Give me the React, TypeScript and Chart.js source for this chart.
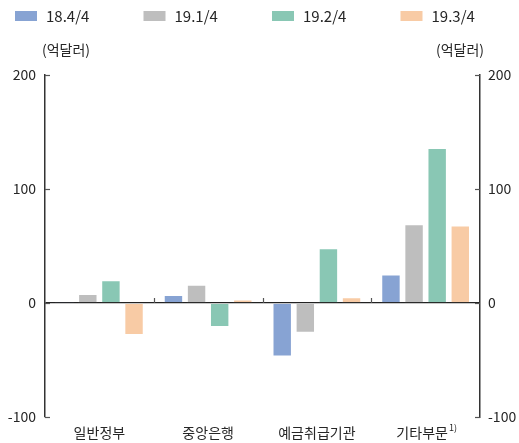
import React, { useEffect, useRef } from "react";
import { Chart, registerables } from "chart.js";

Chart.register(...registerables);

const categories = ["일반정부", "중앙은행", "예금취급기관", "기타부문\u2002"];
const seriesLabels = ["18.4/4", "19.1/4", "19.2/4", "19.3/4"];
const q2018_4 = [1, 7, -47, 25];
const q2019_1 = [8, 16, -26, 69];
const q2019_2 = [20, -21, 48, 136];
const q2019_3 = [-28, 3, 5, 68];
const seriesColors = ["#87A3D3", "#BEBEBE", "#89C7B4", "#F8CBA5"];
const yTicks = [-100, 0, 100, 200];
const unitLabel = "(억달러)";
const footnoteMark = "1)";

const FONT = "'Noto Sans CJK KR', 'Noto Sans', sans-serif";
const TEXT = "#262626";

// Legend row, unit labels, inward ticks and the footnote mark
const decorations = {
  id: "decorations",
  afterDraw(chart: any) {
    const { ctx, chartArea, scales } = chart;
    const yL = scales.y;
    const yR = scales.y2;
    const x = scales.x;
    ctx.save();

    // legend
    ctx.font = `15px ${FONT}`;
    ctx.textBaseline = "middle";
    ctx.textAlign = "left";
    chart.data.datasets.forEach((ds: any, i: number) => {
      const lx = 15 + i * 128.5;
      ctx.fillStyle = ds.backgroundColor;
      ctx.fillRect(lx, 11, 22, 10);
      ctx.fillStyle = TEXT;
      ctx.fillText(ds.label, lx + 31, 16.5);
    });

    // unit labels
    ctx.font = `14px ${FONT}`;
    ctx.fillStyle = TEXT;
    ctx.textAlign = "left";
    ctx.fillText(unitLabel, 42, 50);
    ctx.textAlign = "right";
    ctx.fillText(unitLabel, 484, 50);

    // inward ticks on both vertical axes
    ctx.strokeStyle = "#555555";
    ctx.lineWidth = 1.2;
    yTicks.forEach((v) => {
      const py = Math.round(yL.getPixelForValue(v)) + 0.5;
      ctx.beginPath();
      ctx.moveTo(chartArea.left, py);
      ctx.lineTo(chartArea.left + 5, py);
      ctx.stroke();
      const pr = Math.round(yR.getPixelForValue(v)) + 0.5;
      ctx.beginPath();
      ctx.moveTo(chartArea.right, pr);
      ctx.lineTo(chartArea.right - 5, pr);
      ctx.stroke();
    });

    // category boundary ticks on the zero line
    const y0 = yL.getPixelForValue(0);
    for (let i = 0; i < categories.length - 1; i++) {
      const bx = Math.round((x.getPixelForTick(i) + x.getPixelForTick(i + 1)) / 2) + 0.5;
      ctx.beginPath();
      ctx.moveTo(bx, y0);
      ctx.lineTo(bx, y0 - 5);
      ctx.stroke();
    }

    // footnote mark right after the last category label
    ctx.font = `14px ${FONT}`;
    const last = categories.length - 1;
    const full = ctx.measureText(categories[last]).width;
    const visible = ctx.measureText(categories[last].trim()).width;
    const lx = x.getPixelForTick(last) - full / 2 + visible + 1;
    ctx.font = `9px ${FONT}`;
    ctx.textAlign = "left";
    ctx.textBaseline = "top";
    ctx.fillStyle = TEXT;
    ctx.fillText(footnoteMark, lx, chartArea.bottom + 6);

    ctx.restore();
  },
};

export default function App() {
  const ref = useRef<HTMLCanvasElement>(null);

  useEffect(() => {
    if (!ref.current) return;
    const values = [q2018_4, q2019_1, q2019_2, q2019_3];
    const chart = new Chart(ref.current, {
      type: "bar",
      data: {
        labels: categories,
        datasets: seriesLabels.map((label, i) => ({
          label,
          data: values[i],
          backgroundColor: seriesColors[i],
          borderColor: "rgba(255,255,255,0.6)",
          borderWidth: 1,
          categoryPercentage: 0.85,
          barPercentage: 0.84,
        })),
      },
      options: {
        animation: false,
        responsive: false,
        maintainAspectRatio: false,
        layout: { padding: { top: 75, left: 0, right: 0, bottom: 0 } },
        plugins: {
          legend: { display: false },
          tooltip: { enabled: false },
        },
        scales: {
          x: {
            grid: { display: false, drawTicks: false },
            border: { display: false },
            ticks: {
              color: TEXT,
              padding: 7,
              font: { family: FONT, size: 14 },
            },
            afterFit: (s: any) => {
              s.height = 26;
            },
          },
          y: {
            position: "left",
            min: -100,
            max: 200,
            afterBuildTicks: (s: any) => {
              s.ticks = yTicks.map((v) => ({ value: v }));
            },
            grid: {
              drawTicks: false,
              color: (c: any) => (c.tick && c.tick.value === 0 ? "#222222" : "rgba(0,0,0,0)"),
              lineWidth: 1.3,
            },
            border: { display: true, color: "#333333", width: 1.5 },
            ticks: {
              color: TEXT,
              padding: 9,
              font: { family: FONT, size: 14 },
            },
            afterFit: (s: any) => {
              s.width = 45;
            },
          },
          y2: {
            position: "right",
            min: -100,
            max: 200,
            afterBuildTicks: (s: any) => {
              s.ticks = yTicks.map((v) => ({ value: v }));
            },
            grid: { drawOnChartArea: false, drawTicks: false },
            border: { display: true, color: "#333333", width: 1.5 },
            ticks: {
              color: TEXT,
              padding: 8,
              font: { family: FONT, size: 14 },
            },
            afterFit: (s: any) => {
              s.width = 39;
            },
          },
        },
      },
      plugins: [decorations],
    });
    return () => chart.destroy();
  }, []);

  return (
    <div style={{ position: "absolute", left: 0, top: 0, width: 519, height: 443, background: "#fff" }}>
      <canvas ref={ref} width={519} height={443} style={{ width: 519, height: 443 }} />
    </div>
  );
}
